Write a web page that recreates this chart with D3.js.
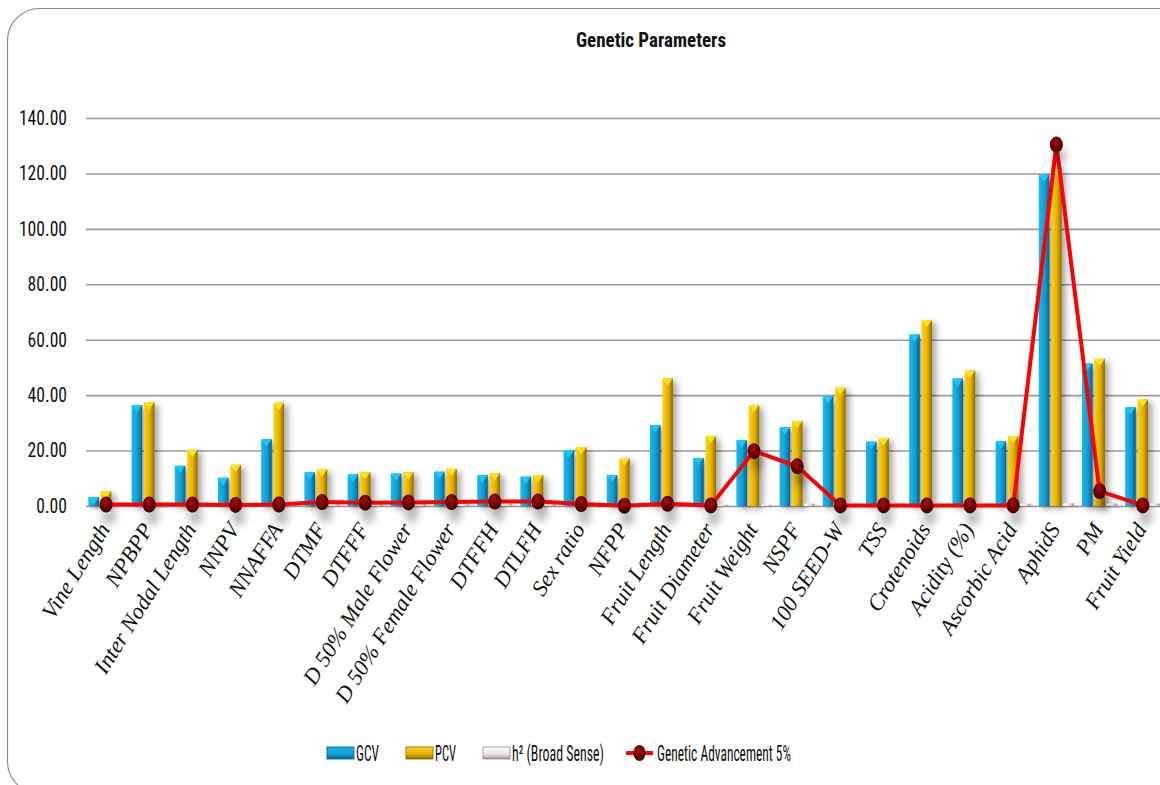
<!DOCTYPE html>
<html lang="en">
<head>
  <meta charset="UTF-8">
  <title>Genetic Parameters</title>
  <style>
    body {
      margin: 0;
      background: #fff;
      overflow: hidden;
    }

    .tick-label {
      font-family: "Liberation Sans Narrow", "Roboto Condensed", Roboto, sans-serif;
      font-size: 20px;
      fill: #111;
    }

    .cat-label {
      font-family: "Liberation Serif", "Times New Roman", serif;
      font-style: italic;
      font-size: 22.5px;
      fill: #111;
    }

    .legend-label {
      font-family: "Liberation Sans Narrow", "Roboto Condensed", Roboto, sans-serif;
      font-size: 22px;
      fill: #111;
    }

    .title {
      font-family: "Liberation Sans Narrow", "Roboto Condensed", Roboto, sans-serif;
      font-weight: bold;
      font-size: 20px;
      fill: #111;
    }
  </style>
</head>
<body>
  <svg id="chart" width="1160" height="785"></svg>

  <script src="https://d3js.org/d3.v7.min.js"></script>
  <script>
    // chart values
    const categories = ["Vine Length", "NPBPP", "Inter Nodal Length", "NNPV", "NNAFFA", "DTMF", "DTFFF",
      "D 50% Male Flower", "D 50% Female Flower", "DTFFH", "DTLFH", "Sex ratio", "NFPP", "Fruit Length",
      "Fruit Diameter", "Fruit Weight", "NSPF", "100 SEED-W", "TSS", "Crotenoids", "Acidity (%)",
      "Ascorbic Acid", "AphidS", "PM", "Fruit Yield"];
    const gcv = [3.2, 36.4, 14.5, 10.2, 24.1, 12.2, 11.4, 11.7, 12.4, 11.2, 10.6, 20.1, 11.2, 29.2, 17.3,
      23.8, 28.4, 39.7, 23.2, 61.9, 46.0, 23.4, 119.6, 51.4, 35.7];
    const pcv = [5.3, 37.4, 20.3, 14.9, 37.3, 13.2, 12.2, 12.2, 13.4, 11.8, 11.2, 21.3, 17.2, 46.1, 25.3,
      36.4, 30.7, 42.7, 24.5, 67.1, 48.9, 25.2, 122.2, 53.1, 38.5];
    const h2 = [0.6, 0.96, 0.52, 0.47, 0.42, 0.85, 0.88, 0.91, 0.86, 0.9, 0.89, 0.91, 0.43, 0.4, 0.47,
      0.43, 0.86, 0.86, 0.88, 0.85, 0.88, 0.85, 0.96, 0.93, 0.86];
    const ga = [0.5, 0.5, 0.5, 0.4, 0.5, 1.4, 1.2, 1.3, 1.4, 1.6, 1.6, 0.7, 0.1, 0.8, 0.2, 19.8, 14.3,
      0.2, 0.2, 0.2, 0.2, 0.2, 130.4, 5.4, 0.2];
    const yTicks = [0, 20, 40, 60, 80, 100, 120, 140];
    const seriesNames = ["GCV", "PCV", "h\u00b2 (Broad Sense)"];

    const svg = d3.select("#chart");
    const defs = svg.append("defs");

    // squeeze a text to a fraction of its natural width (the original font is condensed)
    function squeeze(sel, factor) {
      sel.each(function () {
        const w = this.getComputedTextLength();
        d3.select(this).attr("textLength", w * factor).attr("lengthAdjust", "spacingAndGlyphs");
      });
    }

    // bar gradients (left light -> right dark, like the 3D bars)
    const palettes = {
      gcv: ["#1ab8ec", "#0f9fd6", "#066189"],
      pcv: ["#ffd21a", "#e5b000", "#8c6c00"],
      h2: ["#ffffff", "#efe3e3", "#a89494"]
    };
    Object.entries(palettes).forEach(([key, c]) => {
      const lg = defs.append("linearGradient").attr("id", "grad-" + key)
        .attr("x1", "0").attr("x2", "1").attr("y1", "0").attr("y2", "0");
      lg.append("stop").attr("offset", "0%").attr("stop-color", c[0]);
      lg.append("stop").attr("offset", "55%").attr("stop-color", c[1]);
      lg.append("stop").attr("offset", "100%").attr("stop-color", c[2]);
      const lv = defs.append("linearGradient").attr("id", "vgrad-" + key)
        .attr("x1", "0").attr("x2", "0").attr("y1", "0").attr("y2", "1");
      lv.append("stop").attr("offset", "0%").attr("stop-color", c[0]);
      lv.append("stop").attr("offset", "60%").attr("stop-color", c[1]);
      lv.append("stop").attr("offset", "100%").attr("stop-color", c[2]);
    });

    const dotGrad = defs.append("radialGradient").attr("id", "dot-grad")
      .attr("cx", "45%").attr("cy", "35%").attr("r", "65%");
    dotGrad.append("stop").attr("offset", "0%").attr("stop-color", "#a01010");
    dotGrad.append("stop").attr("offset", "60%").attr("stop-color", "#6e0000");
    dotGrad.append("stop").attr("offset", "100%").attr("stop-color", "#3a0000");

    const shadow = defs.append("filter").attr("id", "shadow")
      .attr("x", "-50%").attr("y", "-20%").attr("width", "250%").attr("height", "160%");
    shadow.append("feDropShadow").attr("dx", 4).attr("dy", 3).attr("stdDeviation", 3)
      .attr("flood-color", "#000").attr("flood-opacity", 0.35);

    const dotShadow = defs.append("filter").attr("id", "dot-shadow")
      .attr("x", "-100%").attr("y", "-100%").attr("width", "300%").attr("height", "400%");
    dotShadow.append("feDropShadow").attr("dx", 3).attr("dy", 12).attr("stdDeviation", 4)
      .attr("flood-color", "#000").attr("flood-opacity", 0.3);

    // outer frame (runs off the right edge)
    svg.append("rect")
      .attr("x", 7.5).attr("y", 8.5)
      .attr("width", 1200).attr("height", 785)
      .attr("rx", 32).attr("ry", 32)
      .attr("fill", "#fff")
      .attr("stroke", "#8a8a8a")
      .attr("stroke-width", 1.2);

    svg.append("text")
      .attr("class", "title")
      .attr("x", 651).attr("y", 47)
      .attr("text-anchor", "middle")
      .text("Genetic Parameters")
      .call(squeeze, 0.95);

    // scales
    const x0 = d3.scaleBand().domain(categories).range([84.4, 1164.4]).padding(0);
    const x1 = d3.scaleBand().domain([0, 1, 2]).range([4, x0.bandwidth() - 4]).paddingInner(0.14);
    const y = d3.scaleLinear().domain([0, 140]).range([506, 118]);

    // gridlines + y labels
    const yAxis = svg.append("g")
      .attr("transform", "translate(86,0)")
      .call(d3.axisLeft(y).tickValues(yTicks).tickFormat(d3.format(".2f"))
        .tickSize(-1100).tickPadding(19));
    yAxis.select(".domain").remove();
    yAxis.selectAll(".tick line").attr("stroke", "#9a9a9a").attr("stroke-width", 1.6);
    yAxis.selectAll(".tick text").attr("class", "tick-label").attr("fill", null)
      .call(squeeze, 0.88);

    // bars
    const groups = svg.append("g").selectAll("g")
      .data(categories)
      .join("g")
      .attr("transform", d => `translate(${x0(d)},0)`);

    const keys = ["gcv", "pcv", "h2"];
    const vals = [gcv, pcv, h2];
    groups.each(function (cat, i) {
      const g = d3.select(this);
      keys.forEach((k, s) => {
        const v = vals[s][i];
        const bx = x1(s), bw = x1.bandwidth();
        const top = y(v), h = y(0) - top;
        const bar = g.append("g").attr("filter", "url(#shadow)");
        bar.append("rect")
          .attr("x", bx).attr("y", top)
          .attr("width", bw).attr("height", Math.max(h, 1.2))
          .attr("fill", `url(#grad-${k})`);
        if (h > 6) {
          bar.append("path")
            .attr("d", `M${bx},${top}L${bx + bw},${top}L${bx + bw / 2},${top + Math.min(bw * 0.7, h)}Z`)
            .attr("fill", d3.color(palettes[k][0]).brighter(0.3))
            .attr("opacity", 0.85);
        }
      });
    });

    // genetic advancement line
    const cx = d => x0(d) + x0.bandwidth() / 2;
    const line = d3.line()
      .x((d, i) => cx(categories[i]))
      .y(d => y(d));

    svg.append("path")
      .datum(ga)
      .attr("fill", "none")
      .attr("stroke", "#ff0000")
      .attr("stroke-width", 4)
      .attr("stroke-linejoin", "round")
      .attr("d", line);

    svg.append("g").selectAll("ellipse")
      .data(ga)
      .join("ellipse")
      .attr("cx", (d, i) => cx(categories[i]))
      .attr("cy", d => y(d))
      .attr("rx", 6.5).attr("ry", 8)
      .attr("fill", "url(#dot-grad)")
      .attr("filter", "url(#dot-shadow)");

    // category labels
    svg.append("g").selectAll("text")
      .data(categories)
      .join("text")
      .attr("class", "cat-label")
      .attr("text-anchor", "end")
      .attr("transform", d => `translate(${cx(d) - 2},${525}) rotate(-58)`)
      .attr("dy", "0.35em")
      .text(d => d);

    // legend
    const legend = svg.append("g");
    const swatchX = [327, 406, 483];
    const textX = [356, 435, 512];
    const textW = [23, 21, 92];
    keys.forEach((k, s) => {
      legend.append("rect")
        .attr("x", swatchX[s]).attr("y", 747)
        .attr("width", 27).attr("height", 12)
        .attr("fill", `url(#vgrad-${k})`)
        .attr("stroke", d3.color(palettes[k][2]).darker(0.3))
        .attr("stroke-width", 0.8);
      legend.append("text")
        .attr("class", "legend-label")
        .attr("x", textX[s]).attr("y", 761)
        .attr("textLength", textW[s])
        .attr("lengthAdjust", "spacingAndGlyphs")
        .text(seriesNames[s]);
    });
    legend.append("line")
      .attr("x1", 626).attr("x2", 653).attr("y1", 753).attr("y2", 753)
      .attr("stroke", "#ff0000").attr("stroke-width", 4);
    legend.append("ellipse")
      .attr("cx", 639.5).attr("cy", 753).attr("rx", 6).attr("ry", 8)
      .attr("fill", "url(#dot-grad)");
    legend.append("text")
      .attr("class", "legend-label")
      .attr("x", 657).attr("y", 761)
      .attr("textLength", 134)
      .attr("lengthAdjust", "spacingAndGlyphs")
      .text("Genetic Advancement 5%");
  </script>
</body>
</html>
